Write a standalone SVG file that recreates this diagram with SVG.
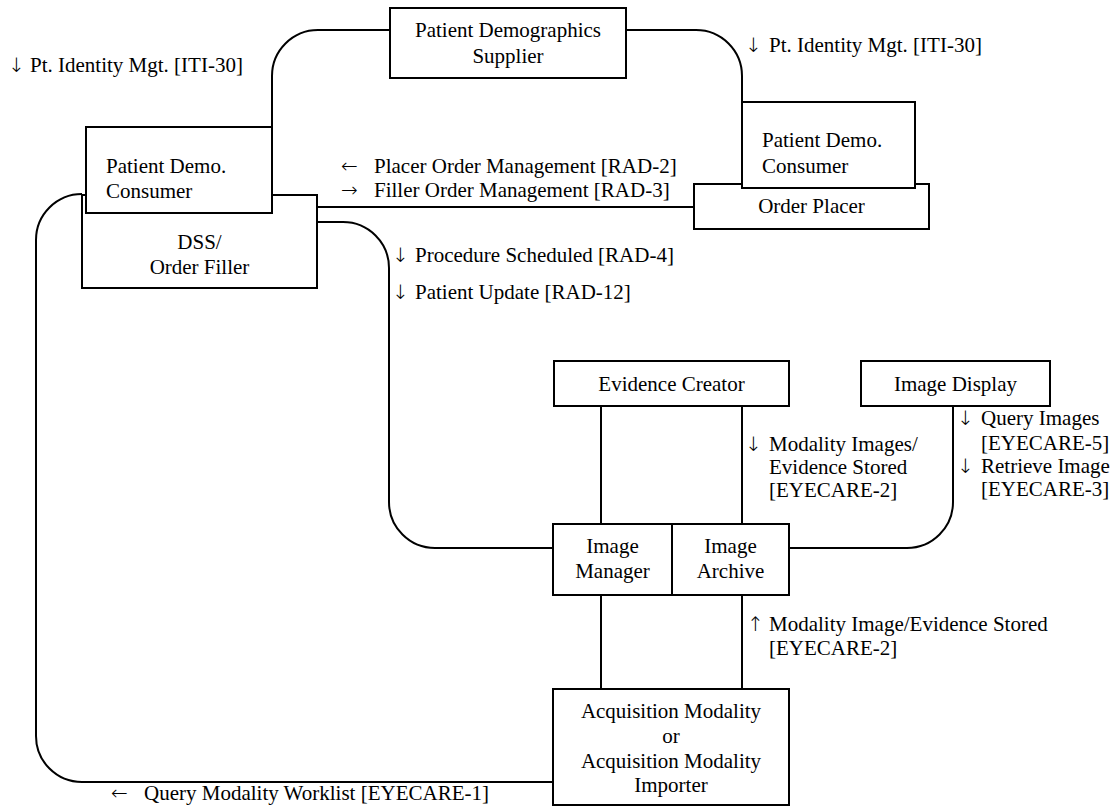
<svg xmlns="http://www.w3.org/2000/svg" width="1117" height="809" viewBox="0 0 1117 809" font-family="Liberation Serif, Times New Roman, serif">
<style>
text{font-family:'Liberation Serif','Times New Roman',serif;font-size:21px;fill:#000}
text.ar{font-family:'DejaVu Sans',sans-serif;font-size:20px;font-weight:300}
.c{text-anchor:middle}
.box{fill:#fff;stroke:#000;stroke-width:2}
.ln{fill:none;stroke:#000;stroke-width:2}
</style>
<rect width="1117" height="809" fill="#fff"/>
<g id="connectors">
<path class="ln" d="M272,127 V76 A46,46 0 0 1 318,30 H390"/>
<path class="ln" d="M626,30 H696 A46,46 0 0 1 742,76 V102"/>
<path class="ln" d="M317,207 H694"/>
<path class="ln" d="M317,222 H343 A46,46 0 0 1 389,268 V502 A46,46 0 0 0 435,548 H553"/>
<path class="ln" d="M789,548 H907 A46,46 0 0 0 953,502 V406"/>
<path class="ln" d="M601,406 V524"/>
<path class="ln" d="M742,406 V524"/>
<path class="ln" d="M601,595 V689"/>
<path class="ln" d="M742,595 V689"/>
<path class="ln" d="M553,782 H82 A46,46 0 0 1 36,736 V240 A46,46 0 0 1 82,194"/>
</g>
<g id="labels">
<text class="ar" x="8" y="72">↓</text><text x="30" y="72">Pt. Identity Mgt. [ITI-30]</text>
<text class="ar" x="745" y="52">↓</text><text x="769" y="52">Pt. Identity Mgt. [ITI-30]</text>
<text class="ar" x="341" y="173">←</text><text x="374" y="173">Placer Order Management [RAD-2]</text>
<text class="ar" x="341" y="197">→</text><text x="374" y="197">Filler Order Management [RAD-3]</text>
<text class="ar" x="392" y="262">↓</text><text x="415" y="262">Procedure Scheduled [RAD-4]</text>
<text class="ar" x="392" y="299">↓</text><text x="415" y="299">Patient Update [RAD-12]</text>
<text class="ar" x="745" y="451">↓</text>
<text x="769" y="451">Modality Images/</text>
<text x="769" y="474">Evidence Stored</text>
<text x="769" y="497">[EYECARE-2]</text>
<text class="ar" x="957" y="425">↓</text>
<text x="981" y="425">Query Images</text>
<text x="981" y="450">[EYECARE-5]</text>
<text class="ar" x="957" y="473">↓</text>
<text x="981" y="473">Retrieve Image</text>
<text x="981" y="496">[EYECARE-3]</text>
<text class="ar" x="747" y="631">↑</text>
<text x="769" y="631">Modality Image/Evidence Stored</text>
<text x="769" y="655">[EYECARE-2]</text>
<text class="ar" x="111" y="800">←</text><text x="144" y="800">Query Modality Worklist [EYECARE-1]</text>
</g>
<g id="pds">
<rect class="box" x="390" y="8" width="236" height="70"/>
<text class="c" x="508" y="37">Patient Demographics</text>
<text class="c" x="508" y="63">Supplier</text>
</g>
<g id="dss-order-filler">
<rect class="box" x="82" y="195" width="235" height="93"/>
<text class="c" x="199.5" y="249">DSS/</text>
<text class="c" x="199.5" y="274">Order Filler</text>
</g>
<g id="pdc-left">
<rect class="box" x="86" y="127" width="186" height="86"/>
<text x="106" y="173">Patient Demo.</text>
<text x="106" y="198">Consumer</text>
</g>
<g id="order-placer">
<rect class="box" x="694" y="184" width="235" height="45"/>
<text class="c" x="811.5" y="213">Order Placer</text>
</g>
<g id="pdc-right">
<rect class="box" x="742" y="102" width="173" height="86"/>
<text x="762" y="147">Patient Demo.</text>
<text x="762" y="173">Consumer</text>
</g>
<g id="evidence-creator">
<rect class="box" x="554" y="361" width="235" height="45"/>
<text class="c" x="671.5" y="391">Evidence Creator</text>
</g>
<g id="image-display">
<rect class="box" x="861" y="361" width="189" height="45"/>
<text class="c" x="955.5" y="391">Image Display</text>
</g>
<g id="image-manager">
<rect class="box" x="553" y="524" width="119" height="71"/>
<text class="c" x="612.5" y="553">Image</text>
<text class="c" x="612.5" y="578">Manager</text>
</g>
<g id="image-archive">
<rect class="box" x="672" y="524" width="117" height="71"/>
<text class="c" x="730.5" y="553">Image</text>
<text class="c" x="730.5" y="578">Archive</text>
</g>
<g id="acquisition-modality">
<rect class="box" x="553" y="689" width="236" height="116"/>
<text class="c" x="671" y="718">Acquisition Modality</text>
<text class="c" x="671" y="743">or</text>
<text class="c" x="671" y="768">Acquisition Modality</text>
<text class="c" x="671" y="792">Importer</text>
</g>
</svg>
